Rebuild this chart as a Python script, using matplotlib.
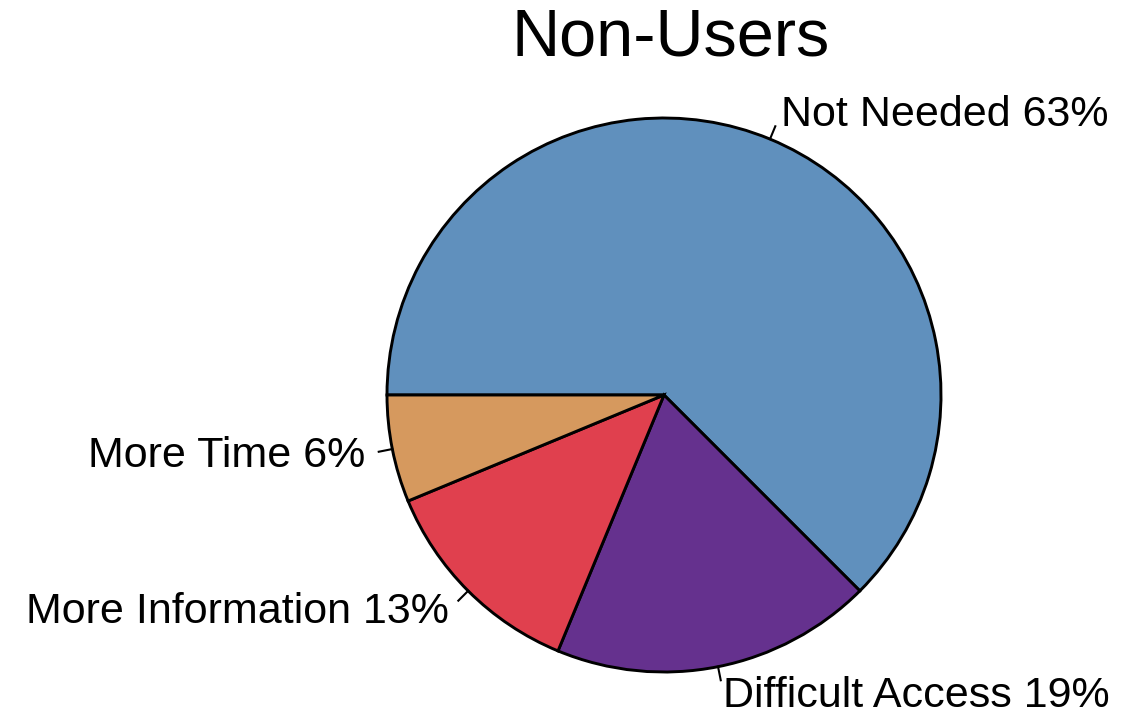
import numpy as np
import matplotlib
matplotlib.use("Agg")
import matplotlib.pyplot as plt

plt.rcParams["font.family"] = ["Liberation Sans", "DejaVu Sans"]

labels = ["Not Needed", "Difficult Access", "More Information", "More Time"]
counts = [10, 3, 2, 1]
colors = ["#6090BD", "#65318E", "#E0404E", "#D6995E"]
title = "Non-Users"

W, H = 1143, 717
fig = plt.figure(figsize=(W / 100, H / 100), dpi=100)
ax = fig.add_axes([0, 0, 1, 1])

cx, cy, r = 664, H - 395, 277
wedges, _ = ax.pie(counts, colors=colors, startangle=180, counterclock=False,
                   center=(cx, cy), radius=r, frame=True,
                   wedgeprops=dict(edgecolor="black", linewidth=2.1))
ax.set_xlim(0, W)
ax.set_ylim(0, H)
ax.axis("off")

total = sum(counts)
for w, lab, n in zip(wedges, labels, counts):
    mid = np.deg2rad((w.theta1 + w.theta2) / 2)
    c, s = np.cos(mid), np.sin(mid)
    ax.plot([cx + r * c, cx + 1.05 * r * c], [cy + r * s, cy + 1.05 * r * s],
            color="black", lw=1.5)
    # round half up, like R does for these labels
    pct = int(np.floor(100 * n / total + 0.5))
    ax.text(cx + 1.1 * r * c, cy + 1.1 * r * s - 2, f"{lab} {pct}%",
            ha="left" if c > 0 else "right", va="center", fontsize=31)

ax.text(671, H - 38, title, ha="center", va="center", fontsize=48)

fig.savefig("out.png", dpi=100)
